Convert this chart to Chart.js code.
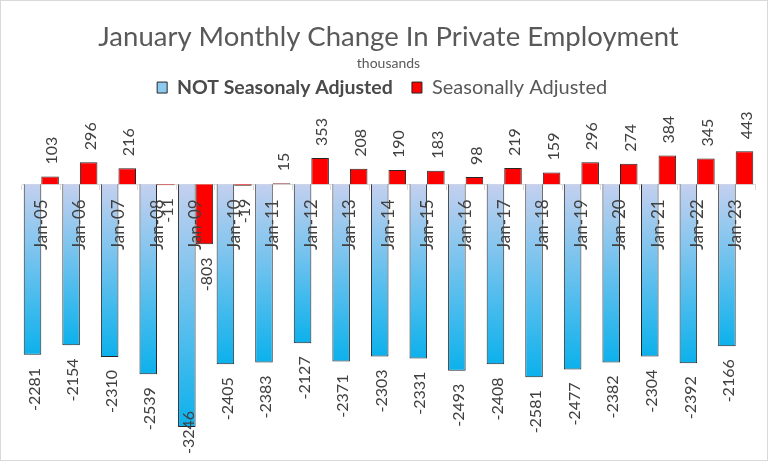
<!DOCTYPE html>
<html lang="en">
<head>
  <meta charset="UTF-8">
  <title>January Monthly Change In Private Employment</title>
  <script src="https://cdn.jsdelivr.net/npm/chart.js"></script>
  <style>
    body { margin: 0; background: #fff; }
    #wrap { width: 768px; height: 461px; box-sizing: border-box; border: 1px solid #d9d9d9; }
  </style>
</head>
<body>

  <div id="wrap"><canvas id="jobsChart"></canvas></div>

  <script>
    const months = ['Jan-05', 'Jan-06', 'Jan-07', 'Jan-08', 'Jan-09', 'Jan-10', 'Jan-11', 'Jan-12', 'Jan-13', 'Jan-14',
                    'Jan-15', 'Jan-16', 'Jan-17', 'Jan-18', 'Jan-19', 'Jan-20', 'Jan-21', 'Jan-22', 'Jan-23'];
    const notAdjusted = [-2281, -2154, -2310, -2539, -3246, -2405, -2383, -2127, -2371, -2303,
                         -2331, -2493, -2408, -2581, -2477, -2382, -2304, -2392, -2166];
    const adjusted = [103, 296, 216, -11, -803, -19, 15, 353, 208, 190,
                      183, 98, 219, 159, 296, 274, 384, 345, 443];

    const FONT = 'Lato, "Liberation Sans", sans-serif';

    // each blue bar fades from pale lavender at zero to bright blue at its end
    function blueFade(c) {
      const chart = c.chart;
      if (!chart.chartArea || c.type !== 'data') return '#5fbdef';
      const y = chart.scales.y;
      const g = chart.ctx.createLinearGradient(0, y.getPixelForValue(0), 0, y.getPixelForValue(c.raw));
      g.addColorStop(0, '#c4d0ef');
      g.addColorStop(1, '#0cb1ec');
      return g;
    }

    // value labels, rotated, just past the end of each bar
    const valueLabels = {
      id: 'valueLabels',
      afterDatasetsDraw(chart) {
        const ctx = chart.ctx;
        const limit = chart.height - 6;
        ctx.save();
        ctx.font = '16px ' + FONT;
        ctx.fillStyle = '#404040';
        ctx.textBaseline = 'middle';
        chart.data.datasets.forEach((ds, i) => {
          chart.getDatasetMeta(i).data.forEach((bar, j) => {
            const v = ds.data[j];
            const txt = String(v);
            const w = ctx.measureText(txt).width;
            ctx.save();
            if (v >= 0) {
              ctx.translate(bar.x + 2, bar.y - 12);
              ctx.rotate(-Math.PI / 2);
              ctx.textAlign = 'left';
            } else {
              ctx.translate(bar.x + 2, Math.min(bar.y + 13, limit - w));
              ctx.rotate(-Math.PI / 2);
              ctx.textAlign = 'right';
            }
            ctx.fillText(txt, 0, 0);
            ctx.restore();
          });
        });
        ctx.restore();
      }
    };

    // first legend entry is bold, the second regular: redraw the second one
    const legendText = {
      id: 'legendText',
      afterDraw(chart) {
        const box = chart.legend.legendHitBoxes[1];
        if (!box) return;
        const ctx = chart.ctx;
        ctx.save();
        ctx.font = '20px ' + FONT;
        ctx.fillStyle = '#595959';
        ctx.textAlign = 'left';
        ctx.textBaseline = 'middle';
        ctx.fillText(chart.data.datasets[1].label, box.left + 10 + 10, box.top + box.height / 2);
        ctx.restore();
      }
    };

    const ctx = document.getElementById('jobsChart').getContext('2d');
    const chart = new Chart(ctx, {
      type: 'bar',
      data: {
        labels: months,
        datasets: [
          { label: 'NOT Seasonaly Adjusted', data: notAdjusted, backgroundColor: blueFade,
            borderColor: '#262626', borderWidth: 1 },
          { label: 'Seasonally Adjusted', data: adjusted, backgroundColor: '#ff0000',
            borderColor: '#262626', borderWidth: 1 }
        ]
      },
      options: {
        responsive: true,
        maintainAspectRatio: false,
        animation: false,
        layout: { padding: { left: 21, right: 12, top: 0, bottom: 14 } },
        categoryPercentage: 0.91,
        barPercentage: 1,
        scales: {
          x: {
            position: { y: 0 },
            grid: { offset: true, drawOnChartArea: false, drawTicks: true, tickLength: 5, color: '#d9d9d9' },
            border: { color: '#d9d9d9' },
            ticks: { z: 1, autoSkip: false, minRotation: 90, maxRotation: 90, padding: 10,
                     color: '#404040', font: { family: FONT, size: 17 } }
          },
          y: { display: false, min: -3500, max: 1030 }
        },
        plugins: {
          title: {
            display: true,
            text: 'January Monthly Change In Private Employment',
            color: '#595959',
            font: { family: FONT, size: 27.5, weight: 'normal' },
            padding: { top: 20, bottom: 1 }
          },
          subtitle: {
            display: true,
            text: 'thousands',
            color: '#595959',
            font: { family: FONT, size: 14 },
            padding: { top: 0, bottom: 1 }
          },
          legend: {
            position: 'top',
            labels: {
              boxWidth: 10,
              boxHeight: 11,
              padding: 5,
              font: { family: FONT, size: 19.5, weight: 'bold' },
              generateLabels: () => [
                { text: 'NOT Seasonaly Adjusted   ', fillStyle: '#8ccaf0', strokeStyle: '#262626',
                  lineWidth: 1, fontColor: '#4a4a4a', datasetIndex: 0 },
                { text: 'Seasonally Adjusted   ', fillStyle: '#ff0000', strokeStyle: '#262626',
                  lineWidth: 1, fontColor: 'rgba(0,0,0,0)', datasetIndex: 1 }
              ]
            }
          },
          tooltip: { enabled: false }
        }
      },
      plugins: [valueLabels, legendText]
    });
  </script>

</body>
</html>
